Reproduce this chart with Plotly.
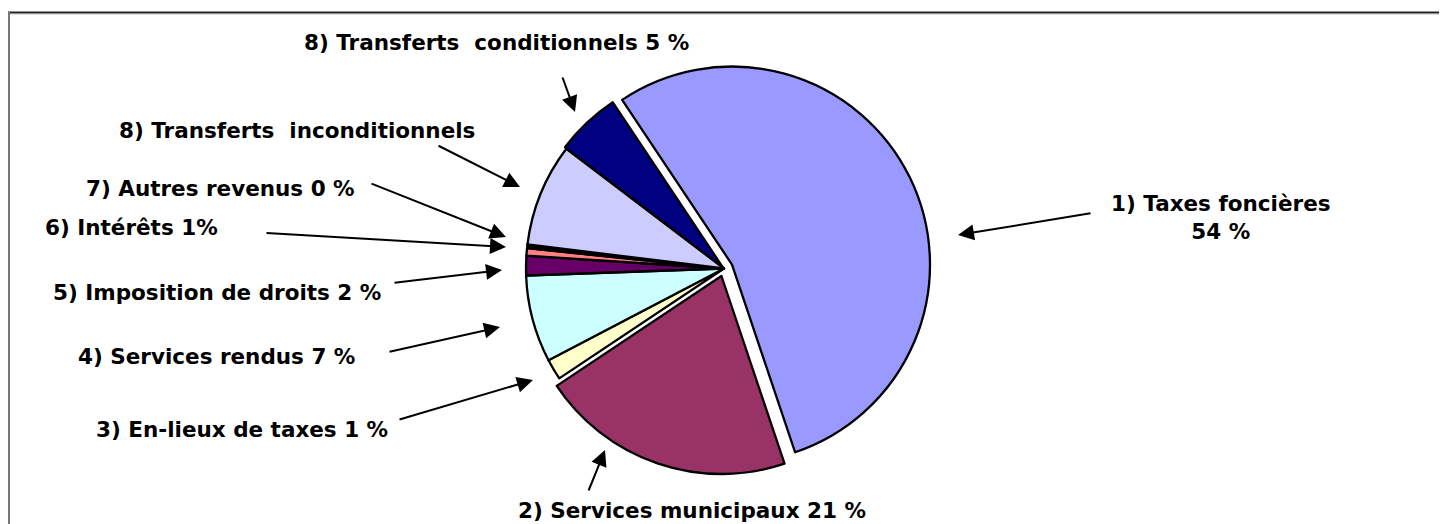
import plotly.graph_objects as go

W, H = 1447, 524
OFF = 8  # page body margin pushes the figure 8px right and down

# data
labels = [
    "1) Taxes foncières",
    "2) Services municipaux",
    "3) En-lieux de taxes",
    "4) Services rendus",
    "5) Imposition de droits",
    "6) Intérêts",
    "7) Autres revenus",
    "8) Transferts inconditionnels",
    "8) Transferts conditionnels",
]
values = [54.2, 20.8, 1.7, 7.1, 1.6, 0.6, 0.3, 8.4, 5.3]
label_texts = [
    "1) Taxes foncières<br>54 %",
    "2) Services municipaux 21 %",
    "3) En-lieux de taxes 1 %",
    "4) Services rendus 7 %",
    "5) Imposition de droits 2 %",
    "6) Intérêts 1%",
    "7) Autres revenus 0 %",
    "8) Transferts  inconditionnels",
    "8) Transferts  conditionnels 5 %",
]

colors = ["#9999FF", "#993366", "#FFFFCC", "#CCFFFF", "#660066",
          "#FF8080", "#000000", "#CCCCFF", "#000080"]
pulls = [0.045, 0.04, 0, 0, 0, 0, 0, 0, 0.01]


def px(x):
    return (x - OFF) / W


def py(y):
    return 1 - (y - OFF) / H


# pie geometry in screen pixels
cx, cy, r = 724, 268.5, 198
half = r * (1 + max(pulls))

# text position (screen px), anchor, arrow tail, arrow head
label_layout = [
    (1221, 217, "center", (1092, 213), (958, 235)),
    (692, 510, "center", (588, 492), (605, 450)),
    (390, 429, "right", (398, 420), (533, 380)),
    (357, 356, "right", (388, 352), (500, 327)),
    (383, 292, "right", (393, 283), (502, 270)),
    (220, 228, "right", (265, 233), (506, 247)),
    (357, 188, "right", (370, 183), (506, 237)),
    (477, 131, "right", (437, 145), (520, 187)),
    (496, 42, "center", (562, 76), (575, 112)),
]

fig = go.Figure(go.Pie(
    labels=labels, values=values, sort=False, direction="clockwise",
    rotation=-33.7, pull=pulls, textinfo="none", hoverinfo="label+percent",
    marker=dict(colors=colors, line=dict(color="black", width=2.3)),
    domain=dict(x=[px(cx - half), px(cx + half)],
                y=[py(cy + half), py(cy - half)]),
))

font = dict(family="DejaVu Sans", size=21.5, color="black", weight="bold")
annotations = []
for txt, (tx, ty, anc, tail, head) in zip(label_texts, label_layout):
    annotations.append(dict(x=px(tx), y=py(ty), xref="paper", yref="paper",
                            text=txt, showarrow=False, font=font, xanchor=anc,
                            yanchor="middle", align="center"))
    annotations.append(dict(x=px(head[0]), y=py(head[1]), xref="paper", yref="paper",
                            text="", showarrow=True, arrowhead=2, arrowsize=1.6,
                            arrowwidth=2, arrowcolor="black",
                            ax=tail[0] - head[0], ay=tail[1] - head[1],
                            standoff=0, startstandoff=0))

# chart frame
shapes = [
    dict(type="line", xref="paper", yref="paper", x0=px(8), x1=1, y0=py(12.5), y1=py(12.5),
         line=dict(color="#222222", width=2)),
    dict(type="line", xref="paper", yref="paper", x0=px(10), x1=1, y0=py(14.5), y1=py(14.5),
         line=dict(color="#dddddd", width=1)),
    dict(type="line", xref="paper", yref="paper", x0=px(9), x1=px(9), y0=0, y1=py(12),
         line=dict(color="#777777", width=2)),
]

fig.update_layout(
    width=W, height=H, margin=dict(l=0, r=0, t=0, b=0),
    paper_bgcolor="white", plot_bgcolor="white", showlegend=False,
    annotations=annotations, shapes=shapes,
)

fig.write_html("out.html")
